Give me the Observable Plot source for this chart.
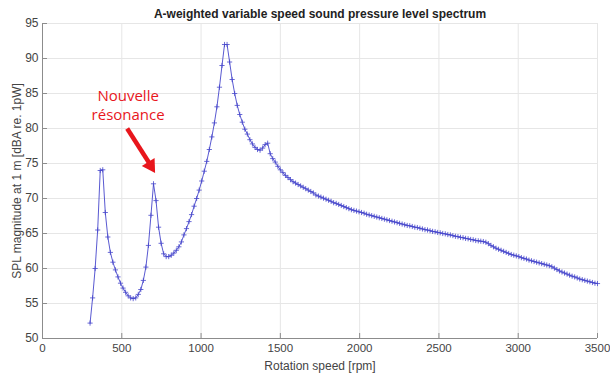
<!DOCTYPE html>
<html>
<head>
<meta charset="utf-8">
<script src="https://cdn.jsdelivr.net/npm/d3@7"></script>
<script src="https://cdn.jsdelivr.net/npm/@observablehq/plot@0.6"></script>
<style>
  html, body { margin: 0; padding: 0; background: #fff; }
</style>
</head>
<body>
<div id="chart"></div>
<script>
const titleText = "A-weighted variable speed sound pressure level spectrum";
const xLabel = "Rotation speed [rpm]";
const yLabel = "SPL magnitude at 1 m [dBA re. 1pW]";
const xTicks = [0, 500, 1000, 1500, 2000, 2500, 3000, 3500];
const yTicks = [50, 55, 60, 65, 70, 75, 80, 85, 90, 95];

// rotation speed samples [rpm]
const speed = [
  300,316,332,348,364,380,396,412,428,444,460,476,492,508,524,540,556,572,588,604,
  620,636,652,668,684,700,716,732,748,764,780,796,812,828,844,860,876,892,908,924,
  940,956,972,988,1004,1020,1036,1052,1068,1084,1100,1116,1132,1148,1164,1180,1196,1212,1228,1244,
  1260,1276,1292,1308,1324,1340,1356,1372,1388,1404,1420,1436,1452,1468,1484,1500,1516,1532,1548,1564,
  1580,1596,1612,1628,1644,1660,1676,1692,1708,1724,1740,1756,1772,1788,1804,1820,1836,1852,1868,1884,
  1900,1916,1932,1948,1964,1980,1996,2012,2028,2044,2060,2076,2092,2108,2124,2140,2156,2172,2188,2204,
  2220,2236,2252,2268,2284,2300,2316,2332,2348,2364,2380,2396,2412,2428,2444,2460,2476,2492,2508,2524,
  2540,2556,2572,2588,2604,2620,2636,2652,2668,2684,2700,2716,2732,2748,2764,2780,2796,2812,2828,2844,
  2860,2876,2892,2908,2924,2940,2956,2972,2988,3004,3020,3036,3052,3068,3084,3100,3116,3132,3148,3164,
  3180,3196,3212,3228,3244,3260,3276,3292,3308,3324,3340,3356,3372,3388,3404,3420,3436,3452,3468,3484,
  3500
];

// A-weighted SPL [dBA]
const spl = [
  52.2,55.8,60.0,65.5,74.0,74.1,68.0,64.5,62.3,60.9,59.8,58.8,57.9,57.2,56.6,56.1,55.8,55.7,55.8,56.3,
  57.0,58.3,60.2,63.3,67.6,72.1,69.7,65.9,63.6,62.1,61.7,61.7,61.9,62.2,62.6,63.1,63.8,64.8,65.7,66.7,
  67.7,68.9,70.0,71.2,72.5,73.9,75.3,77.0,78.8,80.8,83.1,85.9,89.0,92.0,92.0,89.5,87.0,85.0,83.3,82.0,
  80.9,79.9,79.2,78.4,77.8,77.3,77.0,76.9,77.2,77.7,77.9,76.4,75.7,75.2,74.6,74.1,73.7,73.3,73.0,72.7,
  72.4,72.2,72.0,71.8,71.6,71.4,71.2,71.0,70.8,70.5,70.35,70.2,70.05,69.9,69.75,69.6,69.4,69.3,69.15,69.0,
  68.85,68.7,68.55,68.4,68.3,68.2,68.1,68.0,67.9,67.75,67.65,67.55,67.45,67.35,67.25,67.15,67.05,66.95,66.85,66.75,
  66.65,66.55,66.45,66.35,66.25,66.15,66.1,66.0,65.9,65.85,65.75,65.65,65.55,65.5,65.4,65.3,65.25,65.15,65.1,65.0,
  64.95,64.85,64.8,64.7,64.6,64.55,64.45,64.4,64.3,64.25,64.15,64.1,64.0,63.95,63.9,63.85,63.75,63.55,63.3,63.1,
  62.9,62.75,62.6,62.45,62.3,62.15,62.0,61.9,61.8,61.7,61.55,61.45,61.35,61.2,61.1,61.0,60.9,60.8,60.7,60.6,
  60.5,60.4,60.25,60.05,59.85,59.65,59.5,59.35,59.2,59.05,58.9,58.8,58.65,58.5,58.4,58.3,58.2,58.1,58.0,57.9,
  57.85
];

// annotation
const noteText = "Nouvelle\nrésonance";
const notePos = [540, 83.4];           // [rpm, dBA]
const arrowFrom = [534, 80.0];         // [rpm, dBA]
const arrowShaftTo = [678, 74.9];
const arrowHead = [681, 74.7];

const data = speed.map((s, i) => ({speed: s, spl: spl[i]}));

const blue = "#4646cc";
const red = "#e8161c";
const font = "'Liberation Sans', Arial, sans-serif";
const fmt = d => String(d);

const chart = Plot.plot({
  width: 610,
  height: 374,
  marginLeft: 42,
  marginRight: 13,
  marginTop: 23,
  marginBottom: 36,
  style: {fontFamily: font, fontSize: "12px", color: "#444", background: "#fff"},
  x: {domain: [0, 3500]},
  y: {domain: [50, 95]},
  marks: [
    Plot.gridX(xTicks, {stroke: "#e6e6e6", strokeOpacity: 1}),
    Plot.gridY(yTicks, {stroke: "#e6e6e6", strokeOpacity: 1}),
    Plot.ruleX([0], {stroke: "#8c8c8c"}),
    Plot.ruleY([50], {stroke: "#8c8c8c"}),
    Plot.axisX(xTicks, {tickSize: -5, stroke: "#8c8c8c", text: null, label: null}),
    Plot.axisX(xTicks, {tickSize: 0, tickPadding: 5, fontSize: 11.5, fill: "#444", label: null, tickFormat: fmt}),
    Plot.axisY(yTicks, {tickSize: -5, stroke: "#8c8c8c", text: null, label: null}),
    Plot.axisY(yTicks, {tickSize: 0, tickPadding: 4, fontSize: 12, fill: "#444", label: null, tickFormat: fmt}),
    Plot.text([titleText], {frameAnchor: "top", dy: -9, fontWeight: "bold", fontSize: 12, fill: "#222", textAnchor: "middle", lineAnchor: "middle"}),
    Plot.text([xLabel], {frameAnchor: "bottom", dy: 28, fontSize: 12, fill: "#444", textAnchor: "middle", lineAnchor: "middle"}),
    Plot.text([yLabel], {frameAnchor: "left", dx: -25, rotate: -90, fontSize: 12, fill: "#444", textAnchor: "middle", lineAnchor: "middle"}),
    Plot.line(data, {x: "speed", y: "spl", stroke: blue, strokeWidth: 0.9}),
    Plot.dot(data, {x: "speed", y: "spl", symbol: "plus", r: 1.8, stroke: blue, strokeWidth: 0.8}),
    Plot.link([0], {x1: () => arrowFrom[0], y1: () => arrowFrom[1], x2: () => arrowShaftTo[0], y2: () => arrowShaftTo[1], stroke: red, strokeWidth: 4.5}),
    Plot.dot([arrowHead], {x: d => d[0], y: d => d[1], symbol: "triangle", r: 5.6, fill: red, stroke: "none", rotate: 148}),
    Plot.text([notePos], {x: d => d[0], y: d => d[1], text: () => noteText, fill: red, fontSize: 15, lineHeight: 1.25, fontFamily: "'Open Sans', 'Noto Sans', sans-serif"})
  ]
});

document.getElementById("chart").appendChild(chart);
</script>
</body>
</html>
